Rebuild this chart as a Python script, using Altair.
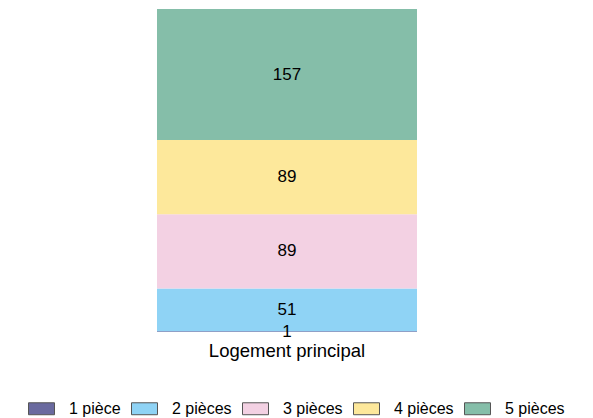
import altair as alt
import pandas as pd

categories = ["1 pièce", "2 pièces", "3 pièces", "4 pièces", "5 pièces"]
values = [1, 51, 89, 89, 157]
group = ["Logement principal"] * 5
colors = ["#6a6a9f", "#8fd3f5", "#f3d1e3", "#fde89b", "#85bea9"]

df = pd.DataFrame({"cat": categories, "val": values, "grp": group, "order": list(range(5))})

FONT = "Liberation Sans"

base = alt.Chart(df).encode(
    x=alt.X("grp:N", title=None,
            scale=alt.Scale(paddingInner=0, paddingOuter=0),
            axis=alt.Axis(labelAngle=0, domain=False, ticks=False, labelFontSize=18.5,
                          labelFont=FONT, labelColor="#000", labelPadding=9)),
    y=alt.Y("val:Q", stack="zero", axis=None, scale=alt.Scale(domain=[0, 387], nice=False)),
    order=alt.Order("order:Q", sort="ascending"),
)

bars = base.mark_bar().encode(
    color=alt.Color("cat:N", scale=alt.Scale(domain=categories, range=colors),
                    legend=alt.Legend(title=None, orient="none", direction="horizontal",
                                      legendX=-129, legendY=386,
                                      symbolType="M-1,-0.46H1V0.46H-1Z", symbolSize=676,
                                      symbolStrokeColor="#555", symbolStrokeWidth=1,
                                      labelFont=FONT, labelFontSize=16, labelColor="#000",
                                      columnPadding=8, labelOffset=14)),
)

text = base.mark_text(font=FONT, fontSize=17, color="#000", baseline="middle").encode(
    y=alt.Y("mid:Q"),
    text="val:Q",
).transform_stack(stack="val", groupby=["grp"], sort=[alt.SortField("order")], as_=["y0", "y1"]
).transform_calculate(mid="(datum.y0 + datum.y1) / 2")

chart = alt.layer(bars, text).properties(
    width=260, height=323,
    padding={"left": 149, "top": 1, "right": 168, "bottom": 86},
    autosize=alt.AutoSizeParams(type="none"),
).configure_view(stroke=None)

chart.save("out.html", embed_options={"renderer": "svg", "actions": False})
